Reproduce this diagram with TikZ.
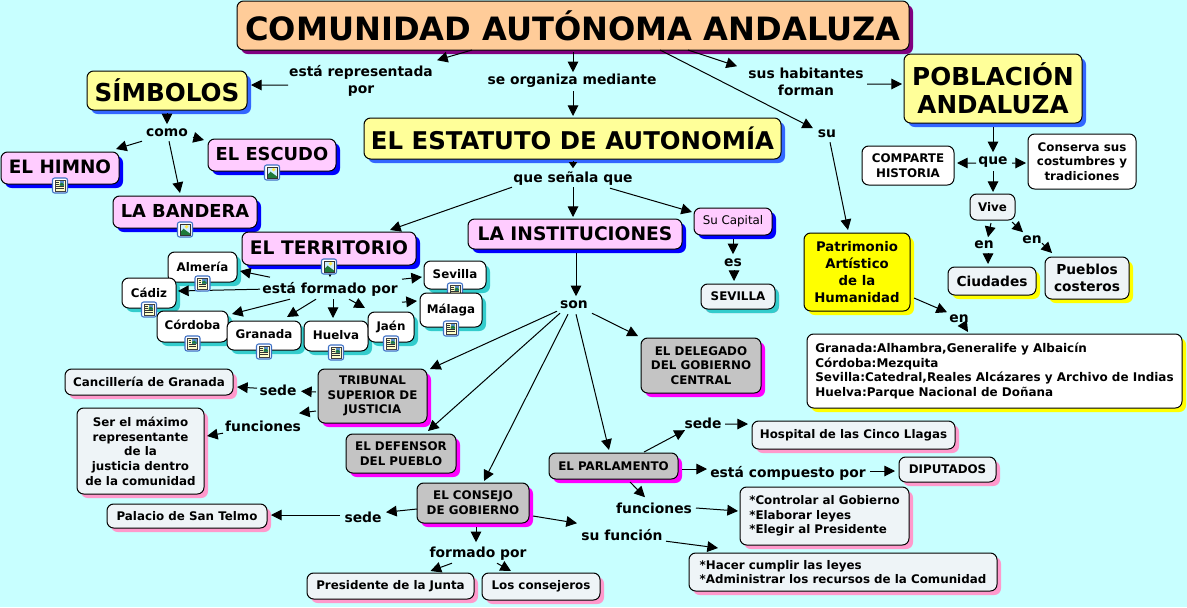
\documentclass[tikz,border=0pt]{standalone}
\usepackage{fontspec}
\setmainfont{DejaVu Sans}
\usetikzlibrary{arrows.meta,shadows}
\definecolor{bgc}{HTML}{C8FFFF}
\definecolor{peach}{HTML}{FFCC99}
\definecolor{ylw}{HTML}{FFFF99}
\definecolor{pnk}{HTML}{FFCCFF}
\definecolor{gry}{HTML}{C4C4C4}
\definecolor{lgt}{HTML}{EEF4F7}
\definecolor{sblue}{HTML}{3366FF}
\definecolor{dblue}{HTML}{0000FF}
\definecolor{spink}{HTML}{FF99CC}
\definecolor{steal}{HTML}{33CCCC}
\definecolor{smag}{HTML}{FF00FF}
\definecolor{spur}{HTML}{800080}
\definecolor{syel}{HTML}{FFFF00}
\definecolor{ibord}{HTML}{3D6FC4}
\definecolor{ipage}{HTML}{FFFFC8}
\definecolor{isky}{HTML}{CFEFFF}
\definecolor{ipic}{HTML}{5B8FD0}
\definecolor{igrn}{HTML}{1F7A3A}
\definecolor{isun}{HTML}{FFE94A}
\newcommand\fsz[2]{\fontsize{#1}{#2}\selectfont\bfseries}
\newcommand\up[2]{\raisebox{#1}{#2}}
\tikzset{
  cbox/.style={draw=black,line width=0.75pt,rounded corners=5pt,inner sep=0pt,align=center,text=black},
  shad/.style={drop shadow={shadow xshift=3pt,shadow yshift=-3pt,fill=#1,opacity=1}},
  bigy/.style={cbox,fill=ylw,shad=sblue,font=\fsz{18.5}{21}},
  pinkb/.style={cbox,fill=pnk,shad=dblue,font=\fsz{13.4}{16}},
  whit/.style={cbox,fill=white,shad=steal,font=\fsz{8.9}{11}},
  grayb/.style={cbox,fill=gry,shad=smag,font=\fsz{8.9}{11}},
  lightb/.style={cbox,fill=lgt,shad=spink,font=\fsz{8.9}{11}},
  plain/.style={cbox,fill=white,font=\fsz{8.9}{11}},
  lab/.style={inner sep=0pt,align=center,text=black,font=\fsz{10.4}{12.75}},
  conn/.style={draw=black,line width=0.75pt,-{Triangle[length=8pt,width=8pt]}},
  conns/.style={conn,-{Triangle[length=4.5pt,width=6pt]}},
}
% #1 style, #2 name, #3 left, #4 top, #5 right, #6 bottom, #7 text
\newcommand\bx[7]{\node[#1,minimum width={(#5-#3)*0.75pt},minimum height={(#6-#4)*0.75pt}] (#2) at ({(#3+#5)/2},{(#4+#6)/2}) {#7};}
\newcommand\lb[4]{\node[lab] (#1) at (#2,{#3+1.2}) {#4};}
\newcommand\cn[6]{\draw[conn] ([shift={(#2,#3)}]#1.center) -- ([shift={(#5,#6)}]#4.center);}
\newcommand\icdoc[1]{\begin{scope}[shift={(#1.south)},yshift=-0.75pt]
  \draw[draw=ibord,fill=white,line width=0.8pt,rounded corners=1.6pt] (-7.5,-7.5) rectangle (7.5,7.5);
  \fill[ipage] (-5,-5.5) rectangle (5,5.5);
  \draw[black!75,line width=0.4pt] (-5,-5.5) rectangle (5,5.5);
  \fill[ipic] (-0.5,-4.5) rectangle (4,0);
  \fill[igrn] (-0.5,-1.5) -- (2,-3) -- (4,-1) -- (4,0) -- (-0.5,0) -- cycle;
  \draw[black!80,line width=0.6pt] (-3.8,-3.5) -- (-1.5,-3.5) (-3.8,-1.5) -- (-1.5,-1.5) (-3.8,1) -- (3.8,1) (-3.8,3) -- (3.8,3);
\end{scope}}
\newcommand\icimg[1]{\begin{scope}[shift={(#1.south)},yshift=-0.75pt]
  \draw[draw=ibord,fill=white,line width=0.8pt,rounded corners=1.6pt] (-7.5,-7.5) rectangle (7.5,7.5);
  \fill[isky] (-5,-5.5) rectangle (5,5.5);
  \fill[isun] (1.6,-2.8) circle (1.9);
  \fill[igrn] (-5,5.5) -- (-5,3) -- (-1.5,-0.8) -- (5,4) -- (5,5.5) -- cycle;
  \draw[black!80,line width=0.5pt] (-5,-5.5) rectangle (5,5.5);
\end{scope}}
\begin{document}
\begin{tikzpicture}[x=0.75pt,y=-0.75pt]
\useasboundingbox (0,0) rectangle (1187,607);
\fill[bgc] (0,0) rectangle (1187,607);
% concepts
\bx{cbox,fill=peach,shad=spur,font=\fsz{24.1}{28}}{title}{237}{1}{909}{50}{COMUNIDAD AUTÓNOMA ANDALUZA}
\bx{bigy}{sim}{87}{71}{247}{110}{SÍMBOLOS}
\bx{bigy,font=\fsz{18.3}{20}}{est}{364}{118}{781}{159}{EL ESTATUTO DE AUTONOMÍA}
\bx{bigy}{pob}{904}{54}{1082}{123}{POBLACIÓN\\ANDALUZA}
\bx{pinkb,font=\fsz{13.8}{16}}{him}{1}{152}{119}{184}{\up{1.8pt}{EL HIMNO}}
\bx{pinkb}{esc}{208}{139}{336}{171}{\up{1.8pt}{EL ESCUDO}}
\bx{pinkb}{ban}{113}{196}{257}{228}{\up{1.8pt}{LA BANDERA}}
\bx{pinkb,font=\fsz{14}{16}}{ter}{242}{232}{416}{265}{\up{1.5pt}{EL TERRITORIO}}
\bx{pinkb,font=\fsz{14}{16}}{ins}{468}{219}{682}{249}{LA INSTITUCIONES}
\bx{cbox,fill=pnk,shad=dblue,font=\fontsize{8.9}{11}\selectfont}{cap}{694}{208}{772}{235}{Su Capital}
\bx{whit}{alm}{168}{252}{237}{282}{\up{1pt}{Almería}}
\bx{whit}{cad}{122}{278}{176}{308}{\up{1pt}{Cádiz}}
\bx{whit}{cor}{157}{311}{228}{342}{\up{2pt}{Córdoba}}
\bx{whit}{gra}{227}{321}{301}{350}{\up{2pt}{Granada}}
\bx{whit}{hue}{304}{321}{368}{351}{\up{1.5pt}{Huelva}}
\bx{whit}{jae}{368}{312}{414}{342}{\up{2pt}{Jaén}}
\bx{whit}{sevi}{424}{261}{486}{289}{\up{1.5pt}{Sevilla}}
\icdoc{sevi}
\bx{whit}{mal}{420}{293}{482}{327}{\up{2pt}{Málaga}}
\bx{lightb,shad=steal}{sev}{701}{284}{775}{309}{SEVILLA}
\bx{plain}{com}{862}{146}{954}{185}{COMPARTE\\HISTORIA}
\bx{plain}{cnv}{1028}{134}{1136}{189}{Conserva sus\\costumbres y\\tradiciones}
\bx{cbox,fill=lgt,font=\fsz{8.9}{11}}{viv}{970}{194}{1015}{220}{Vive}
\bx{cbox,fill=lgt,shad=syel,font=\fsz{10.3}{12.75}}{ciu}{948}{267}{1036}{295}{Ciudades}
\bx{cbox,fill=lgt,shad=syel,font=\fsz{10.3}{12.75}}{pue}{1045}{257}{1129}{299}{Pueblos\\costeros}
\bx{cbox,fill=syel,shad=syel,font=\fsz{9.95}{12.75}}{pat}{804}{233}{910}{311}{Patrimonio\\Artístico\\de la\\Humanidad}
\bx{cbox,fill=white,shad=syel,align=left,font=\fsz{8.98}{11}}{gbx}{807}{334}{1182}{408}{Granada:Alhambra,Generalife y Albaicín\\Córdoba:Mezquita\\Sevilla:Catedral,Reales Alcázares y Archivo de Indias\\Huelva:Parque Nacional de Doñana}
\bx{grayb}{del}{641}{338}{761}{393}{EL DELEGADO\\DEL GOBIERNO\\CENTRAL}
\bx{grayb}{tri}{318}{369}{427}{423}{TRIBUNAL\\SUPERIOR DE\\JUSTICIA}
\bx{grayb}{def}{346}{434}{456}{473}{EL DEFENSOR\\DEL PUEBLO}
\bx{grayb}{cons}{417}{483}{529}{523}{EL CONSEJO\\DE GOBIERNO}
\bx{grayb}{par}{549}{453}{678}{479}{EL PARLAMENTO}
\bx{lightb}{can}{65}{369}{233}{395}{Cancillería de Granada}
\bx{lightb}{ser}{77}{408}{204}{494}{Ser el máximo\\representante\\de la\\justicia dentro\\de la comunidad}
\bx{lightb}{pal}{107}{504}{267}{528}{Palacio de San Telmo}
\bx{lightb}{pre}{307}{573}{474}{599}{Presidente de la Junta}
\bx{lightb}{cje}{482}{573}{600}{600}{Los consejeros}
\bx{lightb}{hos}{752}{421}{955}{449}{Hospital de las Cinco Llagas}
\bx{lightb}{dip}{899}{457}{996}{482}{DIPUTADOS}
\bx{lightb,align=left}{ctr}{740}{487}{909}{545}{*Controlar al Gobierno\\*Elaborar leyes\\*Elegir al Presidente}
\bx{lightb,align=left}{hac}{689}{553}{997}{591}{*Hacer cumplir las leyes\\*Administrar los recursos de la Comunidad}
% linking phrases
\lb{lrep}{361}{80}{está representada\\por}
\lb{lorg}{572}{80}{se organiza mediante}
\lb{lhab}{806}{81}{sus habitantes\\forman}
\lb{lsu}{827}{133}{su}
\lb{lcom}{167}{132}{como}
\lb{lque}{573}{177}{que señala que}
\lb{les}{733}{262}{es}
\lb{lfor}{330}{288}{está formado por}
\lb{lson}{574}{304}{son}
\lb{lqu}{993}{161}{que}
\lb{len1}{984}{244}{en}
\lb{len2}{1032}{239}{en}
\lb{len3}{959}{318}{en}
\lb{lsd1}{278}{389}{sede}
\lb{lfu1}{263}{425}{funciones}
\lb{lsd2}{363}{516}{sede}
\lb{lfp}{478}{552}{formado por}
\lb{lsd3}{703}{422}{sede}
\lb{lcp}{788}{472}{está compuesto por}
\lb{lfu2}{654}{507}{funciones}
\lb{lsf}{622}{534}{su función}
% connectors
\cn{title}{-101}{24.5}{lrep}{76}{-21}
\cn{lrep}{-73}{3.8}{sim}{84}{-5.5}
\cn{title}{0}{26.5}{lorg}{1}{-9}
\cn{lorg}{1}{10}{est}{0.5}{-22.5}
\cn{title}{115}{24.5}{lhab}{-69}{-16}
\cn{lhab}{61}{1.8}{pob}{-91}{-4.5}
\cn{title}{87}{24.5}{lsu}{-14}{-6}
\cn{lsu}{3}{8}{pat}{-9}{-42}
\cn{sim}{0}{22.5}{lcom}{0}{-9}
\cn{lcom}{-25}{8}{him}{56}{-19}
\cn{lcom}{26}{4}{esc}{-68}{-15}
\cn{lcom}{2}{8}{ban}{-5}{-19}
\draw[conns] ([shift={(0.5,22.5)}]est.center) -- ([shift={(0,-10)}]lque.center);
\cn{lque}{-61}{9}{ter}{61}{-18.5}
\cn{lque}{0}{9}{ins}{-2}{-17}
\cn{lque}{37}{10}{cap}{-41}{-9.5}
\cn{cap}{0}{17.5}{les}{0}{-9}
\cn{les}{1}{7}{sev}{-4}{-15.5}
\cn{ter}{1}{24}{lfor}{0}{-12}
\cn{lfor}{-60}{-12}{alm}{37.5}{4}
\cn{lfor}{-70}{0}{cad}{29}{-2}
\cn{lfor}{-40}{10}{cor}{39.5}{-12.5}
\cn{lfor}{-14}{10}{gra}{23}{-18.5}
\cn{lfor}{3}{10}{hue}{-3}{-18}
\cn{lfor}{19}{10}{jae}{-26}{-19}
\cn{lfor}{72}{-10}{sevi}{-33}{2}
\cn{lfor}{72}{13}{mal}{-34}{-9}
\cn{ins}{1}{19}{lson}{2}{-9}
\cn{lson}{18}{8}{del}{-63}{-29.5}
\cn{lson}{-17}{6}{tri}{57.5}{-27}
\cn{lson}{-14}{8}{def}{27}{-22.5}
\cn{lson}{-6}{9}{cons}{11}{-22}
\cn{lson}{2}{9}{par}{-4.5}{-16}
\cn{tri}{-56.5}{-4}{lsd1}{23}{1}
\cn{lsd1}{-21}{-2}{can}{88}{5}
\cn{tri}{-56.5}{15}{lfu1}{36}{-13}
\cn{lfu1}{-40}{7}{ser}{66.5}{-15}
\cn{cons}{-56}{6}{lsd2}{23}{-5}
\cn{lsd2}{-23}{-2.2}{pal}{84}{-1}
\cn{cons}{3}{24}{lfp}{-2}{-11}
\cn{lfp}{-26}{10}{pre}{40}{-15}
\cn{lfp}{19}{10}{cje}{-30}{-15.5}
\cn{cons}{60}{13}{lsf}{-45}{-12}
\cn{lsf}{44}{6}{hac}{-125}{-24}
\cn{par}{30.5}{-14}{lsd3}{-18}{7}
\cn{lsd3}{22}{0.8}{hos}{-105.5}{-11}
\cn{par}{68.5}{3}{lcp}{-81}{-4.2}
\cn{lcp}{82}{-2.2}{dip}{-52.5}{1.5}
\cn{par}{16.5}{16}{lfu2}{-9}{-11}
\cn{lfu2}{42}{-0.2}{ctr}{-86.5}{-5}
\cn{pob}{0}{38.5}{lqu}{0}{-10}
\cn{lqu}{-17}{0.8}{com}{49}{-2.5}
\cn{lqu}{19}{0.8}{cnv}{-56}{1.5}
\cn{lqu}{0}{9}{viv}{0.5}{-15}
\cn{viv}{-1.5}{16}{len1}{4}{-8}
\cn{len1}{4}{8}{ciu}{-4}{-17}
\cn{viv}{19.5}{15}{len2}{-9}{-8}
\cn{len2}{10}{3}{pue}{-35}{-25}
\cn{pat}{57}{26}{len3}{-12}{-7}
\cn{len3}{4}{5}{gbx}{-26.5}{-39}
% resource icons
\icdoc{him}\icimg{esc}\icimg{ban}\icimg{ter}
\icdoc{alm}\icdoc{cad}\icdoc{cor}\icdoc{gra}\icdoc{hue}\icdoc{jae}\icdoc{mal}
\end{tikzpicture}
\end{document}
